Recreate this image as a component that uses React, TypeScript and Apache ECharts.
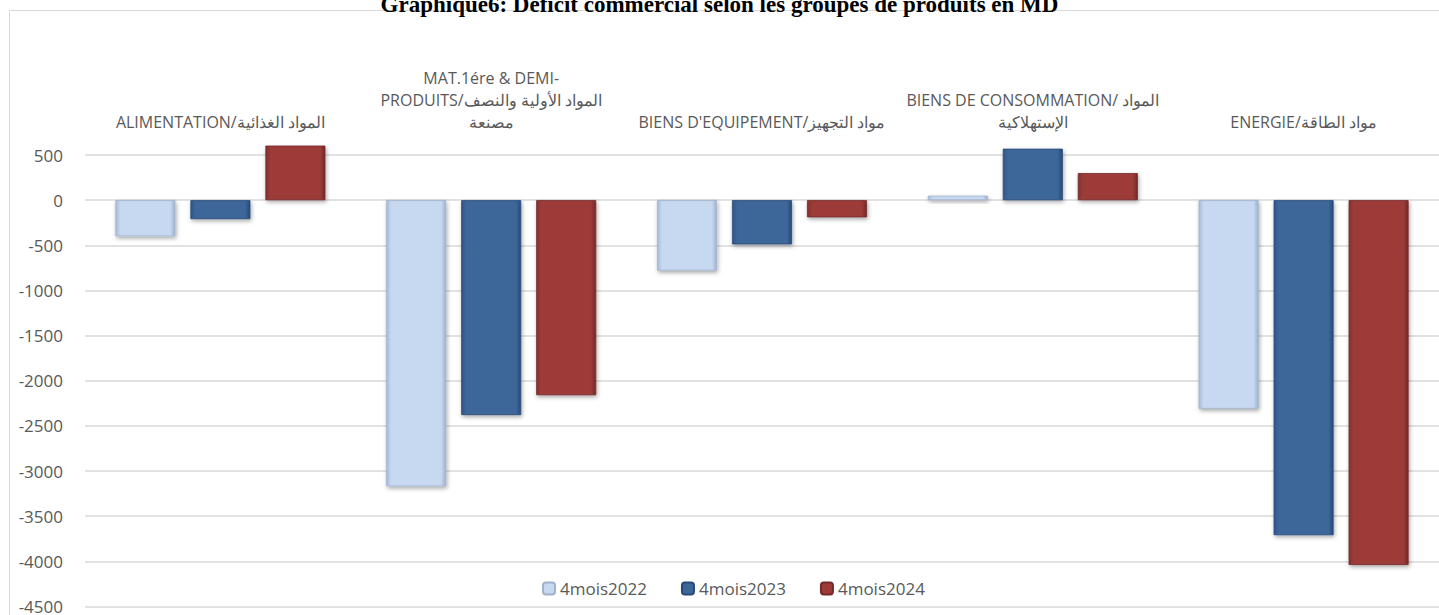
import React, { useEffect, useRef } from "react";
import * as echarts from "echarts";

const categories = [
  "ALIMENTATION/المواد الغذائية",
  "MAT.1ére & DEMI-\nPRODUITS/المواد الأولية والنصف\nمصنعة",
  "BIENS D'EQUIPEMENT/مواد التجهيز",
  "BIENS DE CONSOMMATION/ المواد\nالإستهلاكية",
  "ENERGIE/مواد الطاقة",
];
const seriesNames = ["4mois2022", "4mois2023", "4mois2024"];
const values2022 = [-400, -3170, -780, 50, -2310];
const values2023 = [-210, -2380, -490, 570, -3710];
const values2024 = [1100, -2160, -190, 300, -4040];
const yTicks = { min: -4500, max: 600, interval: 500 };
const titleText = "Graphique6: Deficit commercial selon les groupes de produits en MD";

const palettes = [
  { edge: "#a7bbd6", base: "#c6d9f1", dark: "#9fb2cc" },
  { edge: "#30568a", base: "#3d6699", dark: "#274a78" },
  { edge: "#843130", base: "#9d3b39", dark: "#722928" },
];

function grad(p: { edge: string; base: string; dark: string }) {
  return {
    type: "linear",
    x: 0,
    y: 0,
    x2: 1,
    y2: 0,
    colorStops: [
      { offset: 0, color: p.edge },
      { offset: 0.08, color: p.base },
      { offset: 0.92, color: p.base },
      { offset: 1, color: p.dark },
    ],
  };
}

export default function App() {
  const ref = useRef<HTMLDivElement>(null);
  useEffect(() => {
    if (!ref.current) return;
    const chart = echarts.init(ref.current, null, { renderer: "svg" });
    const data = [values2022, values2023, values2024];
    chart.setOption({
      animation: false,
      backgroundColor: "#ffffff",
      title: {
        text: titleText,
        left: "center",
        top: -12,
        textStyle: {
          fontFamily: "Liberation Serif",
          fontWeight: "bold",
          fontSize: 23,
          color: "#000000",
        },
      },
      graphic: [
        {
          type: "rect",
          shape: { x: 9.5, y: 10.5, width: 1600, height: 800 },
          style: { fill: "none", stroke: "#d9d9d9", lineWidth: 1 },
          silent: true,
          z: -10,
        },
      ],
      legend: {
        data: seriesNames,
        left: 537,
        top: 575,
        itemWidth: 12,
        itemHeight: 12,
        itemGap: 34,
        textStyle: { fontFamily: "Open Sans", fontSize: 17, color: "#595959" },
      },
      grid: { left: 85, right: -11, top: 146, bottom: 7, containLabel: false },
      xAxis: {
        type: "category",
        position: "top",
        data: categories,
        axisLine: { show: false, onZero: false },
        axisTick: { show: false },
        axisLabel: {
          interval: 0,
          margin: 13,
          fontFamily: "Open Sans",
          fontSize: 16,
          lineHeight: 22,
          color: "#595959",
          verticalAlign: "bottom",
        },
      },
      yAxis: {
        type: "value",
        min: yTicks.min,
        max: yTicks.max,
        interval: yTicks.interval,
        axisLine: { show: false },
        axisTick: { show: false },
        axisLabel: {
          showMaxLabel: false,
          margin: 22,
          fontFamily: "Open Sans",
          fontSize: 17,
          color: "#595959",
          formatter: (v: number) => String(v),
        },
        splitLine: { showMaxLine: false, lineStyle: { color: "#d9d9d9", width: 1.5 } },
      },
      series: seriesNames.map((name, i) => ({
        name,
        type: "bar",
        data: data[i],
        barWidth: 60,
        barGap: "25%",
        clip: true,
        itemStyle: {
          color: grad(palettes[i]),
          borderColor: palettes[i].dark,
          borderWidth: 0.8,
          shadowColor: "rgba(0,0,0,0.35)",
          shadowBlur: 4,
          shadowOffsetX: 1,
          shadowOffsetY: 2,
        },
      })),
    });
    return () => chart.dispose();
  }, []);
  return (
    <div
      ref={ref}
      style={{ position: "fixed", left: 0, top: 0, width: 1439, height: 615 }}
    />
  );
}
